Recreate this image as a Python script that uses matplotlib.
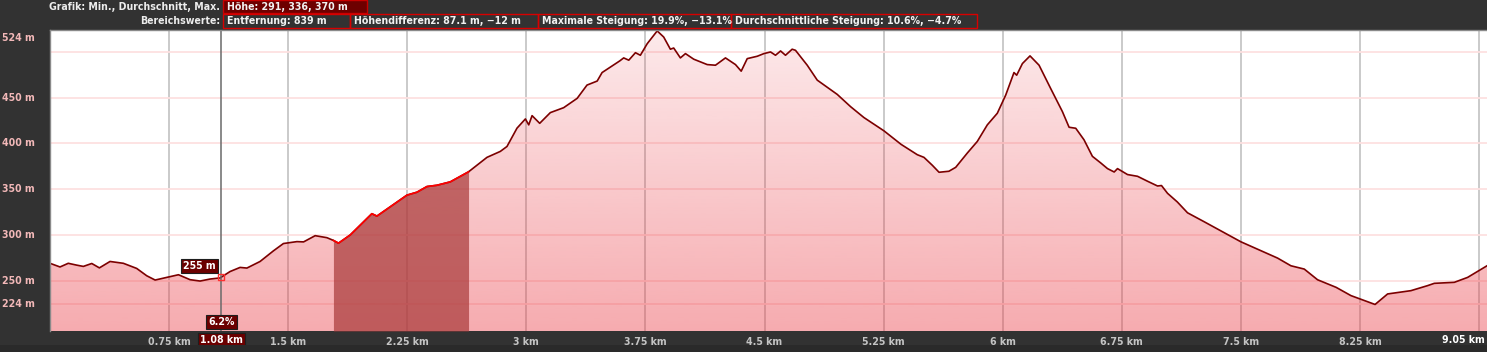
"""
Elevation profile with a highlighted range and a cursor readout
"""
import numpy as np
import matplotlib
matplotlib.use("Agg")
import matplotlib.pyplot as plt
from matplotlib.patches import Rectangle
from matplotlib.colors import to_rgb

# profile (km, m)
dist_km = [0.00, 0.063, 0.115, 0.168, 0.21, 0.263, 0.311, 0.378, 0.462, 0.546,
           0.609, 0.662, 0.735, 0.809, 0.882, 0.945, 1.008, 1.071, 1.134, 1.197,
           1.24, 1.323, 1.407, 1.47, 1.555, 1.597, 1.67, 1.744, 1.785, 1.817,
           1.891, 2.027, 2.059, 2.164, 2.248, 2.311, 2.374, 2.437, 2.521, 2.636,
           2.752, 2.836, 2.878, 2.941, 2.994, 3.015, 3.036, 3.084, 3.151, 3.235,
           3.32, 3.382, 3.446, 3.477, 3.529, 3.588, 3.613, 3.645, 3.687, 3.718,
           3.761, 3.824, 3.865, 3.907, 3.928, 3.97, 4.002, 4.054, 4.139, 4.191,
           4.254, 4.317, 4.353, 4.391, 4.454, 4.496, 4.538, 4.569, 4.601, 4.632,
           4.674, 4.695, 4.769, 4.832, 4.958, 5.042, 5.126, 5.252, 5.36, 5.462,
           5.504, 5.557, 5.599, 5.661, 5.704, 5.777, 5.84, 5.903, 5.966, 6.019,
           6.071, 6.088, 6.124, 6.172, 6.229, 6.302, 6.376, 6.418, 6.46, 6.512,
           6.565, 6.618, 6.66, 6.702, 6.723, 6.786, 6.849, 6.912, 6.975, 7.0,
           7.038, 7.1, 7.164, 7.268, 7.394, 7.5, 7.605, 7.731, 7.815, 7.899,
           7.983, 8.1, 8.193, 8.277, 8.345, 8.424, 8.571, 8.676, 8.718, 8.844,
           8.928, 9.05]
elev_m = [269, 265, 269, 267, 265.6, 268.8, 264, 271, 269, 263.4,
          255.4, 250.7, 253.6, 256.5, 251.1, 249.6, 251.8, 253, 260, 264.5,
          263.8, 271, 282.6, 290.6, 292.7, 292.4, 299.2, 297, 294, 291,
          300, 323.2, 320.6, 333.3, 343.5, 346.7, 352.9, 354.3, 358, 369,
          384.8, 391.3, 396.7, 416.7, 426.8, 420.3, 430.4, 422, 433.7, 439.1,
          449.3, 463.8, 468.2, 477.5, 483.5, 490.2, 493.5, 491, 499.2, 496.4,
          509, 523, 516.3, 503, 504.3, 493.5, 498.2, 492.1, 486.2, 485.5,
          493.5, 486.2, 479, 492.7, 495.3, 498.2, 500, 496.4, 501.1, 496.4,
          503, 501.8, 485.5, 469.2, 453.6, 440.2, 428.3, 413.8, 399, 387.7,
          384.8, 376.1, 368.5, 369.6, 373.9, 389.5, 402.2, 420.3, 433, 452.9,
          477.5, 474.6, 487.3, 495.7, 485.5, 460.1, 434.8, 417.7, 416.6, 404,
          385.9, 378.6, 372.5, 368.8, 372.5, 366, 364.1, 358.7, 353.5, 354,
          345.5, 336, 324.2, 314.5, 302.5, 292.5, 284.4, 274.7, 266.3, 262.7,
          251, 242.7, 233.7, 228.3, 224, 235.5, 239.1, 244.6, 247.1, 248.2,
          253.6, 266.3]

x_ticks_km = [0.75, 1.5, 2.25, 3.0, 3.75, 4.5, 5.25, 6.0, 6.75, 7.5, 8.25]
x_tick_labels = ["0.75 km", "1.5 km", "2.25 km", "3 km", "3.75 km", "4.5 km",
                 "5.25 km", "6 km", "6.75 km", "7.5 km", "8.25 km"]
x_grid_km = x_ticks_km + [9.0]
y_ticks_m = [224, 250, 300, 350, 400, 450, 524]
y_tick_labels = ["224 m", "250 m", "300 m", "350 m", "400 m", "450 m", "524 m"]
y_grid_m = [224, 250, 300, 350, 400, 450, 500, 524]

total_km = 9.05
total_label = "9.05 km"
sel_start_km, sel_end_km = 1.785, 2.636
cursor_km = 1.08
cursor_label = "1.08 km"
cursor_height_label = "255 m"
cursor_grade_label = "6.2%"

header_title = "Grafik: Min., Durchschnitt, Max."
header_boxes = ["Höhe: 291, 336, 370 m"]
range_title = "Bereichswerte:"
range_boxes = ["Entfernung: 839 m", "Höhendifferenz: 87.1 m, \u221212 m",
               "Maximale Steigung: 19.9%, \u221213.1%",
               "Durchschnittliche Steigung: 10.6%, \u22124.7%"]

plt.rcParams['font.family'] = ['DejaVu Sans']
plt.rcParams['font.stretch'] = 'condensed'

W, H = 1487, 352
BG = '#323232'
Y_MIN, Y_MAX = 195, 524
FS = 7.6


def fx(px):
    return px / W


def fy(py):
    return 1 - py / H


fig = plt.figure(figsize=(W / 100, H / 100), dpi=100, facecolor=BG)
ax = fig.add_axes([fx(50), fy(331), fx(W - 50), (331 - 30) / H])
ax.set_facecolor('white')
ax.set_xlim(0, total_km)
ax.set_ylim(Y_MIN, Y_MAX)

dist = np.array(dist_km)
elev = np.array(elev_m)

# grid under the semi-transparent fill
for v in x_grid_km:
    ax.axvline(v, color='#bcbcbc', lw=1.1, zorder=1)
for v in y_grid_m:
    ax.axhline(v, color='#fde0e0', lw=1.3, zorder=1)

# gradient fill clipped to the profile
base = to_rgb('#eb3c46')
grad = np.zeros((256, 1, 4))
grad[:, 0, :3] = base
grad[:, 0, 3] = np.linspace(0.11, 0.43, 256)
poly = ax.fill_between(dist, elev, Y_MIN, color='none', lw=0)
im = ax.imshow(grad, extent=[0, total_km, Y_MIN, Y_MAX], aspect='auto',
               origin='upper', zorder=2, interpolation='bilinear')
im.set_clip_path(poly.get_paths()[0], transform=ax.transData)

# highlighted range
inner = (dist > sel_start_km) & (dist < sel_end_km)
sel_x = np.concatenate([[sel_start_km], dist[inner], [sel_end_km]])
sel_y = np.interp(sel_x, dist, elev)
ax.fill_between(sel_x, sel_y, Y_MIN, color='#aa3c3c', alpha=0.72, lw=0, zorder=3)

ax.plot(dist, elev, color='#7c0000', lw=1.2, zorder=4)
ax.plot(sel_x, sel_y, color='#ff0000', lw=1.2, zorder=5)

# cursor readout
cursor_h = np.interp(cursor_km, dist, elev)
ax.axvline(cursor_km, color='#6a6a6a', lw=1.1, zorder=6)
ax.plot(cursor_km, cursor_h, marker='s', ms=5, mfc='none', mec='#ff3030',
        mew=1, zorder=7)
box_red = dict(boxstyle='square,pad=0.2', fc='#6b0000', ec='#1e1e1e', lw=0.8)
ax.annotate(cursor_height_label, xy=(cursor_km, cursor_h), xytext=(-6, 6),
            textcoords='offset pixels', ha='right', va='bottom', color='white',
            fontsize=FS, fontweight='bold', bbox=box_red, zorder=8)
ax.annotate(cursor_grade_label, xy=(cursor_km, 0), xycoords=('data', 'axes fraction'),
            xytext=(0, 4), textcoords='offset pixels', ha='center', va='bottom',
            color='white', fontsize=FS, fontweight='bold', bbox=box_red, zorder=8,
            annotation_clip=False)
ax.annotate(cursor_label, xy=(cursor_km, 0), xycoords=('data', 'axes fraction'),
            xytext=(0, -4), textcoords='offset pixels', ha='center', va='top',
            color='white', fontsize=FS, fontweight='bold', bbox=box_red, zorder=8,
            annotation_clip=False)

# axes labels
ax.set_xticks(x_ticks_km, x_tick_labels)
ax.set_yticks([])
ax.tick_params(axis='x', length=0, pad=4, labelsize=FS, labelcolor='#c4c4c4')
plt.setp(ax.get_xticklabels(), fontweight='bold')
ax.annotate(total_label, xy=(1, 0), xycoords='axes fraction', xytext=(-2, -4),
            textcoords='offset pixels', ha='right', va='top', color='white',
            fontsize=FS, fontweight='bold', annotation_clip=False)

ytrans = ax.get_yaxis_transform()
for v, lab in zip(y_ticks_m, y_tick_labels):
    va = 'top' if v == Y_MAX else 'center'
    yy = v - 3 if v == Y_MAX else v
    ax.text(-0.0105, yy, lab, transform=ytrans, ha='right', va=va,
            color='#f2b8b8', fontsize=FS, fontweight='bold')

for side in ('right', 'bottom'):
    ax.spines[side].set_visible(False)
for side in ('left', 'top'):
    ax.spines[side].set_color('#8a8a8a')
    ax.spines[side].set_linewidth(1)
    ax.spines[side].set_zorder(9)

# header rows
fig.text(fx(220), fy(6.5), header_title, ha='right', va='center',
         color='#ececec', fontsize=FS, fontweight='bold')
fig.patches.append(Rectangle((fx(223), fy(12.5)), fx(367 - 223), 12.5 / H,
                             transform=fig.transFigure, fc='#6e0000',
                             ec='#c80000', lw=1))
fig.text(fx(227), fy(6.5), header_boxes[0], ha='left', va='center',
         color='#f2f2f2', fontsize=FS, fontweight='bold')

fig.text(fx(220), fy(21), range_title, ha='right', va='center',
         color='#ececec', fontsize=FS, fontweight='bold')
edges = [223, 350, 538, 731, 977]
for i, lab in enumerate(range_boxes):
    fig.patches.append(Rectangle((fx(edges[i]), fy(28)), fx(edges[i + 1] - edges[i]),
                                 14.5 / H, transform=fig.transFigure, fc='none',
                                 ec='#d80000', lw=1))
    fig.text(fx(edges[i] + 4), fy(21), lab, ha='left', va='center',
             color='#f2f2f2', fontsize=FS, fontweight='bold')

fig.patches.append(Rectangle((0, 0), 1, 7 / H, transform=fig.transFigure,
                             fc='#2a2a2a', ec='none'))

fig.savefig('out.png', dpi=100, facecolor=fig.get_facecolor())
